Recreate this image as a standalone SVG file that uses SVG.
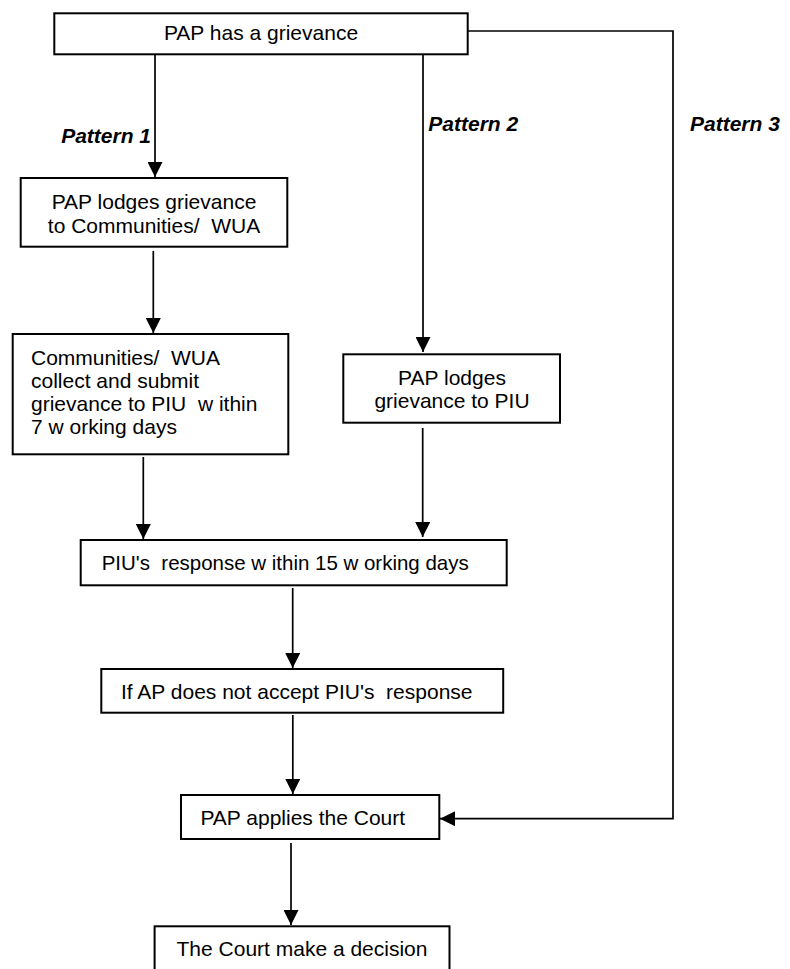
<svg xmlns="http://www.w3.org/2000/svg" width="790" height="969" viewBox="0 0 790 969">
<style>
.box{fill:#fff;stroke:#000;stroke-width:2}
.t{font-family:"Liberation Sans",Arial,sans-serif;font-size:21px;fill:#000}
.c{text-anchor:middle}
.p{font-family:"Liberation Sans",Arial,sans-serif;font-size:21px;font-weight:bold;font-style:italic;fill:#000}
.ln{fill:none;stroke:#000;stroke-width:1.7}
</style>
<defs>
<marker id="ah" markerUnits="userSpaceOnUse" markerWidth="15" markerHeight="15" refX="15" refY="7.5" orient="auto" viewBox="0 0 15 15">
<path d="M0,0 L15,7.5 L0,15 Z" fill="#000"/>
</marker>
</defs>
<rect width="790" height="969" fill="#fff"/>
<g id="connectors">
<line class="ln" x1="155" y1="55" x2="155" y2="177" marker-end="url(#ah)"/>
<line class="ln" x1="423" y1="55" x2="423" y2="352" marker-end="url(#ah)"/>
<polyline class="ln" points="468,31 673,31 673,818.7 440,818.7" marker-end="url(#ah)"/>
<line class="ln" x1="153.3" y1="251" x2="153.3" y2="333" marker-end="url(#ah)"/>
<line class="ln" x1="143.3" y1="457" x2="143.3" y2="539" marker-end="url(#ah)"/>
<line class="ln" x1="422.7" y1="428" x2="422.7" y2="537" marker-end="url(#ah)"/>
<line class="ln" x1="292.7" y1="588" x2="292.7" y2="668" marker-end="url(#ah)"/>
<line class="ln" x1="292.8" y1="715" x2="292.8" y2="794" marker-end="url(#ah)"/>
<line class="ln" x1="291" y1="843" x2="291" y2="925" marker-end="url(#ah)"/>
</g>
<g id="labels">
<text class="p" x="151" y="143.3" text-anchor="end">Pattern 1</text>
<text class="p" x="428.3" y="130.7">Pattern 2</text>
<text class="p" x="690" y="130.7">Pattern 3</text>
</g>
<g id="n1">
<rect class="box" x="54.3" y="13.3" width="413.4" height="41"/>
<text class="t c" x="261" y="39.5">PAP has a grievance</text>
</g>
<g id="n2">
<rect class="box" x="20.7" y="178" width="266.6" height="68.7"/>
<text class="t c" x="154" y="209.3" xml:space="preserve">PAP lodges grievance</text>
<text class="t c" x="154" y="232.7" xml:space="preserve">to Communities/  WUA</text>
</g>
<g id="n3">
<rect class="box" x="12.7" y="334" width="275.6" height="120.3"/>
<text class="t" x="31" y="364.5" xml:space="preserve">Communities/  WUA</text>
<text class="t" x="31" y="387.8" xml:space="preserve">collect and submit</text>
<text class="t" x="31" y="411.1" xml:space="preserve">grievance to PIU  w ithin</text>
<text class="t" x="31" y="434.4" xml:space="preserve">7 w orking days</text>
</g>
<g id="n4">
<rect class="box" x="343.3" y="354.3" width="216.7" height="68.4"/>
<text class="t c" x="452" y="384.5">PAP lodges</text>
<text class="t c" x="452" y="407.5">grievance to PIU</text>
</g>
<g id="n5">
<rect class="box" x="80.7" y="540" width="426" height="45.3"/>
<text class="t" x="101.7" y="570" textLength="367" lengthAdjust="spacingAndGlyphs" xml:space="preserve">PIU's  response w ithin 15 w orking days</text>
</g>
<g id="n6">
<rect class="box" x="101.3" y="669" width="401.9" height="43.7"/>
<text class="t" x="121" y="699.3" xml:space="preserve">If AP does not accept PIU's  response</text>
</g>
<g id="n7">
<rect class="box" x="181" y="795" width="258.3" height="44"/>
<text class="t" x="200.4" y="825">PAP applies the Court</text>
</g>
<g id="n8">
<rect class="box" x="154.6" y="926.3" width="294.9" height="60"/>
<text class="t c" x="302" y="956">The Court make a decision</text>
</g>
</svg>
